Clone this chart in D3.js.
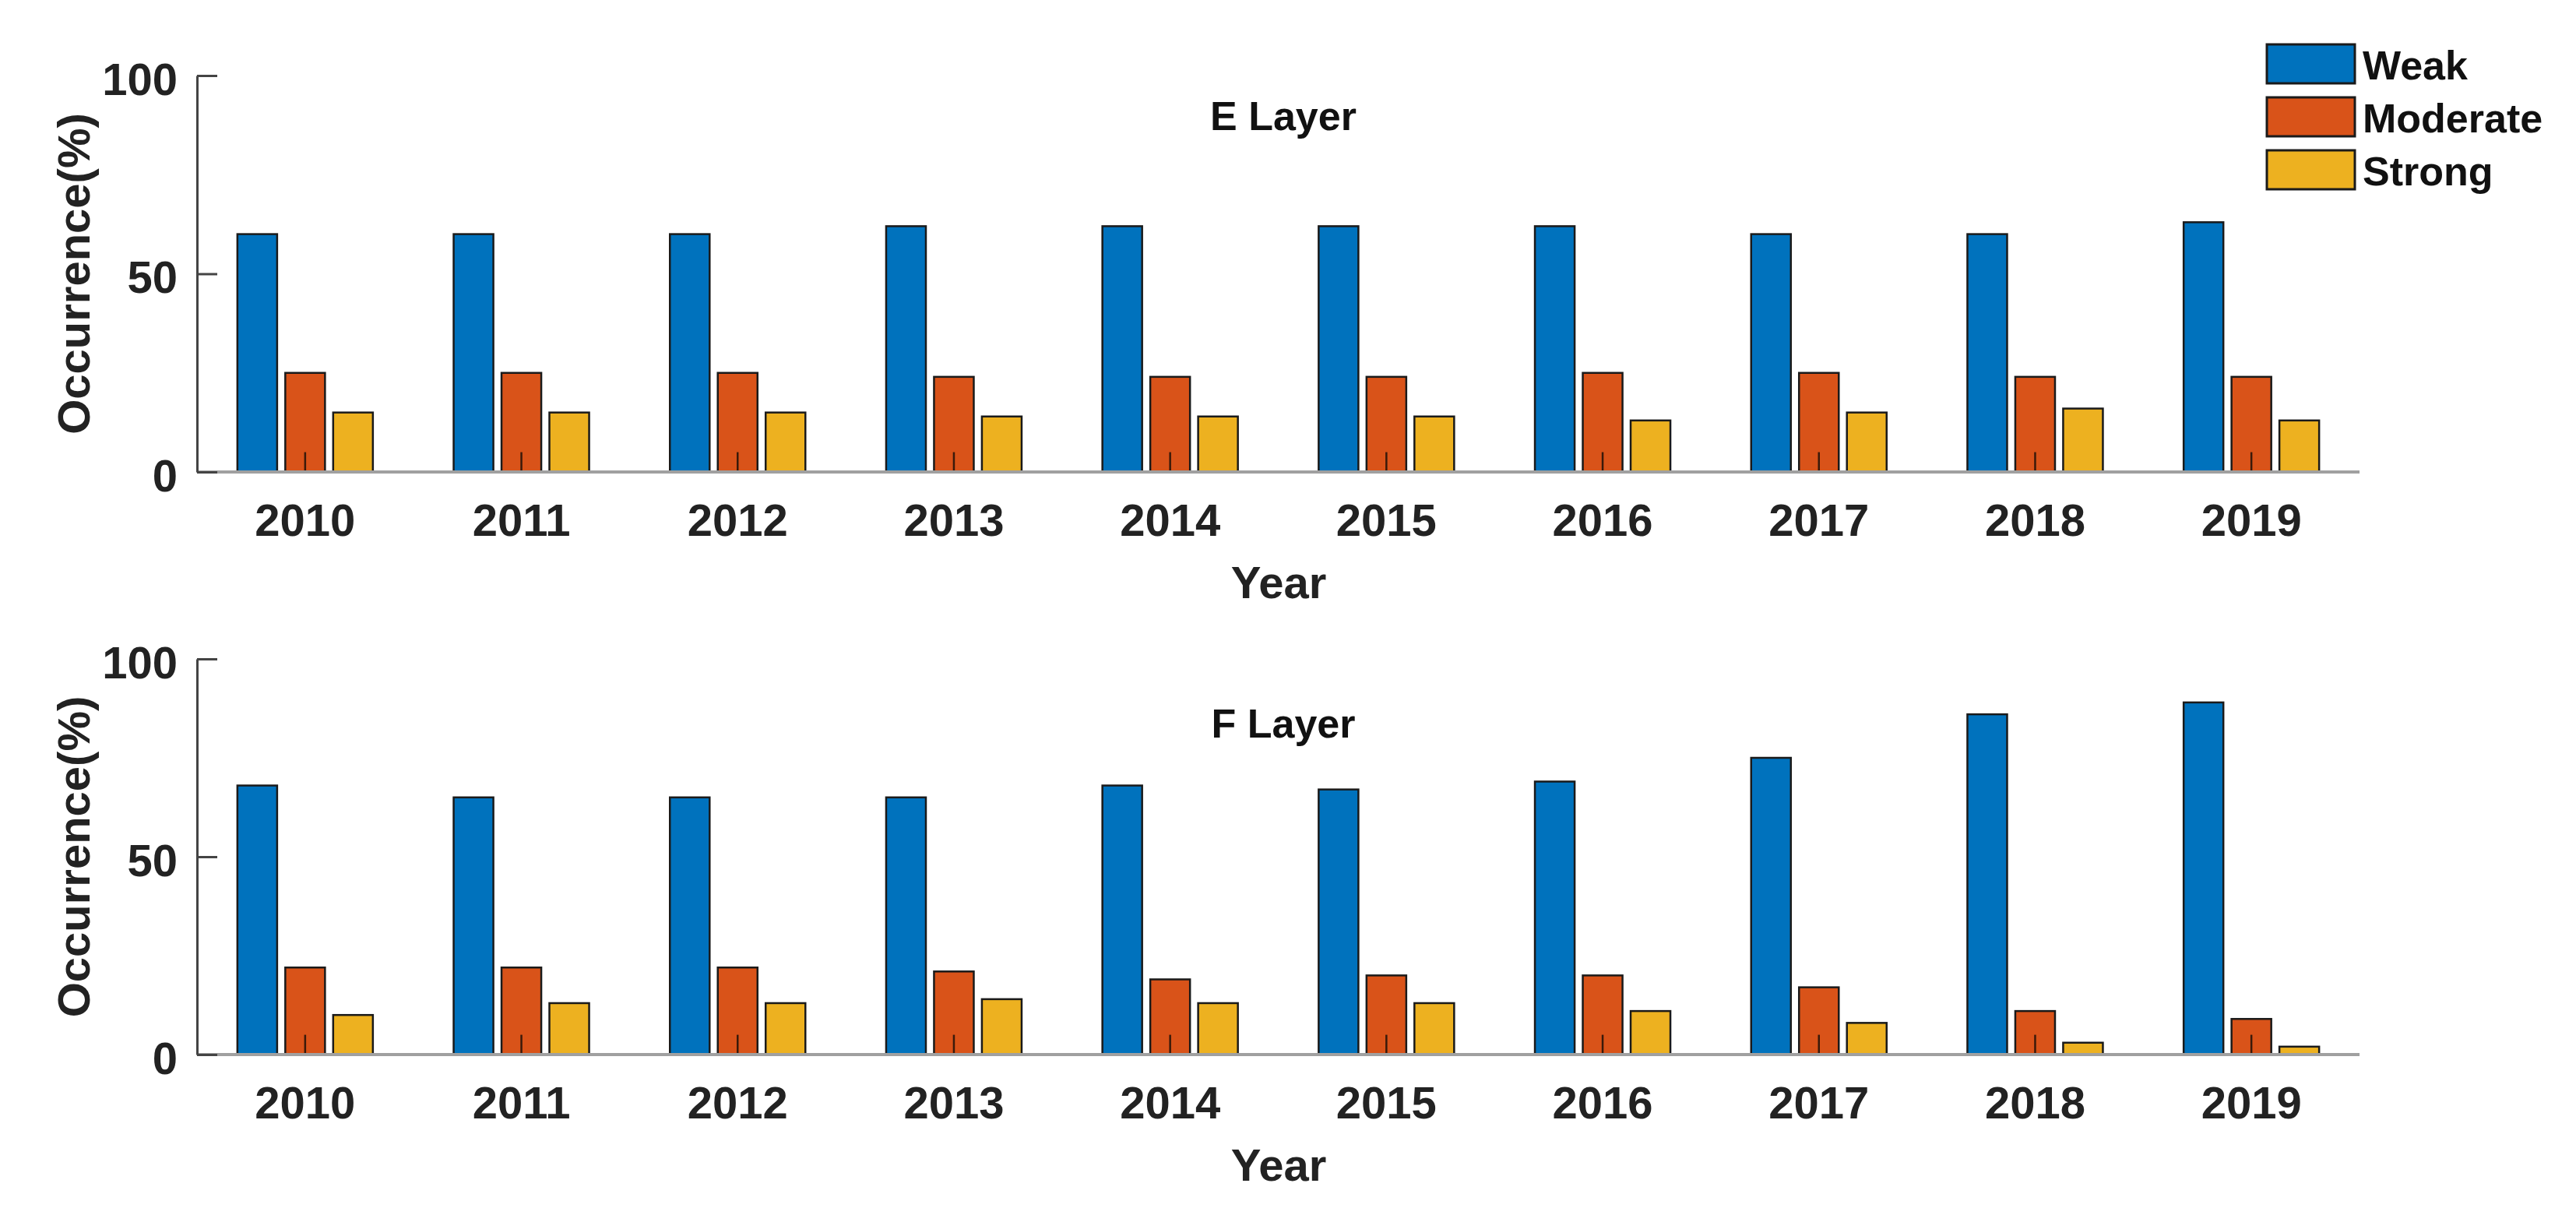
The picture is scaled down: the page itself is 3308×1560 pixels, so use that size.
<!DOCTYPE html>
<meta charset=utf-8>
<style>
body { margin: 0; background: white }
svg { display: block; font-family: "Liberation Sans", Arial, sans-serif; font-weight: bold }
</style>
<script src="https://cdn.jsdelivr.net/npm/d3@7/dist/d3.min.js"></script>
<body>
<svg width=3308 height=1560 id=chart></svg>
<script>
const years = ["2010","2011","2012","2013","2014","2015","2016","2017","2018","2019"];
const series = ["Weak","Moderate","Strong"];
const colors = ["#0072BD","#D95319","#EDB120"];
const yTicks = [0, 50, 100];

// E layer occurrence (%)
const eWeak     = [60, 60, 60, 62, 62, 62, 62, 60, 60, 63];
const eModerate = [25, 25, 25, 24, 24, 24, 25, 25, 24, 24];
const eStrong   = [15, 15, 15, 14, 14, 14, 13, 15, 16, 13];

// F layer occurrence (%)
const fWeak     = [68, 65, 65, 65, 68, 67, 69, 75, 86, 89];
const fModerate = [22, 22, 22, 21, 19, 20, 20, 17, 11,  9];
const fStrong   = [10, 13, 13, 14, 13, 13, 11,  8,  3,  2];

// small stub drawn inside the moderate bars
const stub = 5;

const svg = d3.select(chart);
const ink = "#222";

const x = d3.scaleBand().domain(years).range([253, 3030]).padding(0);
const xs = d3.scaleBand().domain(series).range([-87, 87]).paddingInner(0.17).paddingOuter(0);

function panel(cols, title, top, bottom, titleY) {
	const y = d3.scaleLinear().domain([0, 100]).range([bottom, top]);
	const g = svg.append("g");

	// bars
	g.append("g")
		.selectAll("g")
		.data(years)
		.join("g")
			.attr("transform", d => `translate(${x(d) + x.bandwidth()/2},0)`)
		.selectAll("rect")
		.data((d, i) => series.map((s, k) => ({s, k, v: cols[k][i]})))
		.join("rect")
			.attr("x", d => xs(d.s))
			.attr("width", xs.bandwidth())
			.attr("y", d => y(d.v))
			.attr("height", d => y(0) - y(d.v))
			.attr("fill", d => colors[d.k])
			.attr("stroke", "#1a1a1a")
			.attr("stroke-width", 2.5);

	// stubs in moderate bars
	g.append("g")
		.selectAll("line")
		.data(years)
		.join("line")
			.attr("x1", d => x(d) + x.bandwidth()/2)
			.attr("x2", d => x(d) + x.bandwidth()/2)
			.attr("y1", y(0))
			.attr("y2", y(stub))
			.attr("stroke", "#3a1a0a")
			.attr("stroke-width", 2.5);

	// baseline
	g.append("line")
		.attr("x1", x.range()[0]).attr("x2", x.range()[1])
		.attr("y1", y(0)).attr("y2", y(0))
		.attr("stroke", "#a0a0a0")
		.attr("stroke-width", 4);

	// y axis
	g.append("g")
		.attr("transform", `translate(${x.range()[0]},0)`)
		.call(d3.axisLeft(y).tickValues(yTicks).tickSizeInner(-26).tickSizeOuter(0).tickPadding(25))
		.call(a => a.select(".domain").attr("stroke", "#444").attr("stroke-width", 3))
		.call(a => a.selectAll(".tick line").attr("stroke", "#444").attr("stroke-width", 3))
		.call(a => a.selectAll(".tick text").attr("fill", ink).attr("font-size", 58).attr("dy", "0.42em"))
		.attr("font-family", null);

	// x tick labels
	g.append("g")
		.attr("transform", `translate(0,${y(0)})`)
		.call(d3.axisBottom(x).tickSize(0))
		.call(a => a.select(".domain").remove())
		.call(a => a.selectAll(".tick text").attr("fill", ink).attr("font-size", 58).attr("dy", null).attr("y", 82))
		.attr("font-family", null);

	// axis titles
	g.append("text")
		.attr("x", 1642).attr("y", y(0) + 162)
		.attr("text-anchor", "middle")
		.attr("font-size", 58).attr("fill", ink)
		.text("Year");
	g.append("text")
		.attr("transform", `translate(115,${(y(0) + y(100))/2}) rotate(-90)`)
		.attr("text-anchor", "middle")
		.attr("font-size", 58).attr("fill", ink)
		.text("Occurrence(%)");
	g.append("text")
		.attr("x", 1648).attr("y", titleY)
		.attr("text-anchor", "middle")
		.attr("font-size", 52).attr("fill", "#111")
		.text(title);
}

panel([eWeak, eModerate, eStrong], "E Layer", 97, 606, 167);
panel([fWeak, fModerate, fStrong], "F Layer", 846, 1354, 947);

// legend
const leg = svg.append("g")
	.selectAll("g")
	.data(series)
	.join("g")
		.attr("transform", (d, i) => `translate(2911,${57 + i*68})`);
leg.append("rect")
	.attr("width", 113).attr("height", 50)
	.attr("fill", (d, i) => colors[i])
	.attr("stroke", "#1a1a1a").attr("stroke-width", 3);
leg.append("text")
	.attr("x", 123).attr("y", 45)
	.attr("font-size", 52).attr("fill", "#111")
	.text(d => d);
</script>
</body>
